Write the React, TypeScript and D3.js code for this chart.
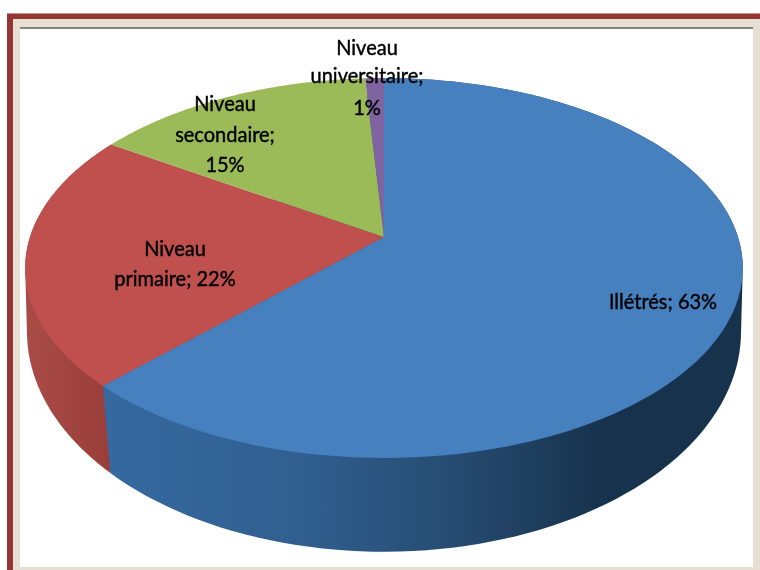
import React from "react";
import * as d3 from "d3";

const categories = ["Illétrés", "Niveau primaire", "Niveau secondaire", "Niveau universitaire"];
const values = [63, 22, 15, 1];
const topColors = ["#4680bf", "#c0504d", "#9bbb59", "#8064a2"];
const labelLines = [
  ["Illétrés; 63%"],
  ["Niveau", "primaire; 22%"],
  ["Niveau", "secondaire;", "15%"],
  ["Niveau", "universitaire;", "1%"],
];
const labelAnchors = [
  { x: 663, y: 309, dy: [0] },
  { x: 175, y: 256, dy: [0, 30] },
  { x: 225, y: 111, dy: [0, 31, 61] },
  { x: 367, y: 55, dy: [0, 28, 60] },
];
const sideStops = [
  { at: 0, color: "#35699f" },
  { at: 0.3, color: "#305f8f" },
  { at: 0.55, color: "#264b70" },
  { at: 0.78, color: "#17324d" },
  { at: 1, color: "#17324d" },
];
const redSideStops = [
  { at: 0, color: "#a94c47" },
  { at: 1, color: "#9a3e39" },
];

const W = 760;
const H = 570;
const CX = 384;

type Disc = { y0: number; k: number; rx: number; ry: number };
const topDisc: Disc = { y0: 237, k: -0.163, rx: 354, ry: 184.9 };
const bottomDisc: Disc = { y0: 303, k: -0.13, rx: 354, ry: 216.4 };

type P = [number, number];
const project = (theta: number, d: Disc): P => {
  const u = Math.sin(theta);
  const v = -Math.cos(theta);
  const w = 1 + d.k * v;
  return [CX + (d.rx * u) / w, d.y0 + (d.ry * v) / w];
};

const pieData = d3.pie<number>().sort(null)(values);
const line = d3.line<P>();
const sample = (a: number, b: number) =>
  d3.range(0, 121).map((i) => a + ((b - a) * i) / 120);

const topPath = (a: number, b: number) =>
  line([[CX, topDisc.y0] as P, ...sample(a, b).map((t) => project(t, topDisc))]) + "Z";
const sidePath = (a: number, b: number) =>
  line(
    d3.polygonHull([
      ...sample(a, b).map((t) => project(t, topDisc)),
      ...sample(a, b).map((t) => project(t, bottomDisc)),
    ]) as P[]
  ) + "Z";

const sideX = d3.scaleLinear().domain([0, 1]).range([108, 743]);
const redX = d3.scaleLinear().domain([0, 1]).range([25, 108]);

export default function App() {
  const font = "Lato, 'Open Sans', sans-serif";
  return (
    <svg
      width={W}
      height={H}
      viewBox={`0 0 ${W} ${H}`}
      style={{ position: "absolute", left: 0, top: 0 }}
    >
      <defs>
        <linearGradient id="blueSide" gradientUnits="userSpaceOnUse" x1={sideX(0)} x2={sideX(1)} y1={0} y2={0}>
          {sideStops.map((s) => (
            <stop key={s.at} offset={s.at} stopColor={s.color} />
          ))}
        </linearGradient>
        <linearGradient id="redSide" gradientUnits="userSpaceOnUse" x1={redX(0)} x2={redX(1)} y1={0} y2={0}>
          {redSideStops.map((s) => (
            <stop key={s.at} offset={s.at} stopColor={s.color} />
          ))}
        </linearGradient>
        <filter id="soft" x="-5%" y="-5%" width="110%" height="110%">
          <feGaussianBlur stdDeviation="0.35" />
        </filter>
      </defs>
      <rect x={0} y={0} width={W} height={H} fill="#ffffff" />
      <rect x={7} y={13} width={W - 7} height={H - 13} fill="#e7dfd1" />
      <rect x={7} y={13} width={W - 7} height={1} fill="#cf8f8c" />
      <rect x={7} y={14} width={W - 7} height={5} fill="#943634" />
      <rect x={7} y={14} width={6} height={H - 14} fill="#943634" />
      <rect x={20} y={27} width={733} height={540} fill="#ffffff" />
      <rect x={20} y={27} width={733} height={2} fill="#858585" />

      <path d={sidePath(pieData[1].startAngle, pieData[1].endAngle)} fill="url(#redSide)" />
      <path d={sidePath(pieData[0].startAngle, pieData[0].endAngle)} fill="url(#blueSide)" />
      {pieData.map((d, i) => (
        <path key={categories[i]} d={topPath(d.startAngle, d.endAngle)} fill={topColors[i]} />
      ))}

      <g filter="url(#soft)">
        {labelLines.map((lines, i) =>
          lines.map((txt, j) => (
            <text
              key={txt}
              transform={`translate(${labelAnchors[i].x},${labelAnchors[i].y + labelAnchors[i].dy[j]}) scale(0.91,1)`}
              textAnchor="middle"
              fontFamily={font}
              fontSize={22}
              fill="#000000"
              stroke="#000000"
              strokeWidth={0.45}
            >
              {txt}
            </text>
          ))
        )}
      </g>
    </svg>
  );
}
